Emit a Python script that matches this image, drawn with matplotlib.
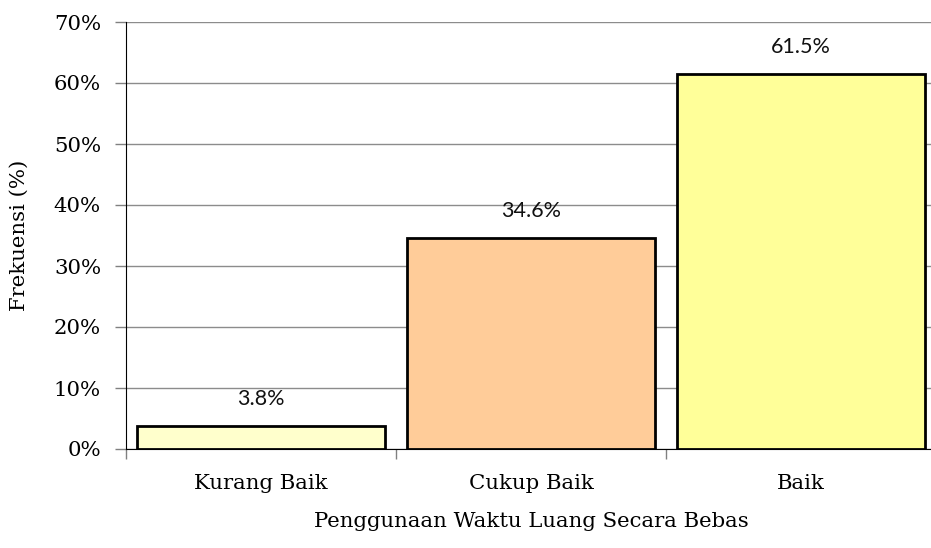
import numpy as np
import matplotlib.pyplot as plt
from matplotlib.ticker import FuncFormatter, FixedLocator

categories = ["Kurang Baik", "Cukup Baik", "Baik"]
values = [3.8, 34.6, 61.5]
labels = ["3.8%", "34.6%", "61.5%"]
colors = ["#FFFFCC", "#FFCC99", "#FFFF99"]

serif = ["DejaVu Serif"]

fig = plt.figure(figsize=(9.31, 5.48), dpi=100)
ax = fig.add_axes([126 / 931, 1 - 449 / 548, 810 / 931, 427 / 548])

x = np.arange(len(categories))
ax.bar(x, values, width=0.915, color=colors, edgecolor="black", linewidth=2, zorder=3)

for xi, v, lab in zip(x, values, labels):
    ax.text(xi, v + 2.8, lab, ha="center", va="bottom", fontsize=15.5,
            family=["Lato", "DejaVu Sans"], color="#111111")

ax.set_xlim(-0.5, 2.5)
ax.set_ylim(0, 70)
ax.set_yticks(np.arange(0, 71, 10))
ax.yaxis.set_major_formatter(FuncFormatter(lambda v, p: f"{int(v)}%"))
ax.yaxis.grid(True, color="#8c8c8c", linewidth=1.0, zorder=0)

ax.set_xticks(x)
ax.set_xticklabels(categories)
ax.tick_params(axis="x", length=0, pad=18)
ax.xaxis.set_minor_locator(FixedLocator([-0.5, 0.5, 1.5, 2.5]))
ax.tick_params(axis="x", which="minor", length=7, color="#808080", width=1)
ax.tick_params(axis="y", length=8, width=1, color="#808080", pad=10)

for lab in ax.get_xticklabels() + ax.get_yticklabels():
    lab.set_family(serif)
    lab.set_fontsize(15.3)

for s in ["top", "right"]:
    ax.spines[s].set_visible(False)
ax.spines["left"].set_color("black")
ax.spines["bottom"].set_color("black")

ax.set_ylabel("Frekuensi (%)", family=serif, fontsize=15.3, labelpad=18)
ax.set_xlabel("Penggunaan Waktu Luang Secara Bebas", family=serif,
              fontsize=15.3, labelpad=14)

fig.savefig("out.png", dpi=100)
